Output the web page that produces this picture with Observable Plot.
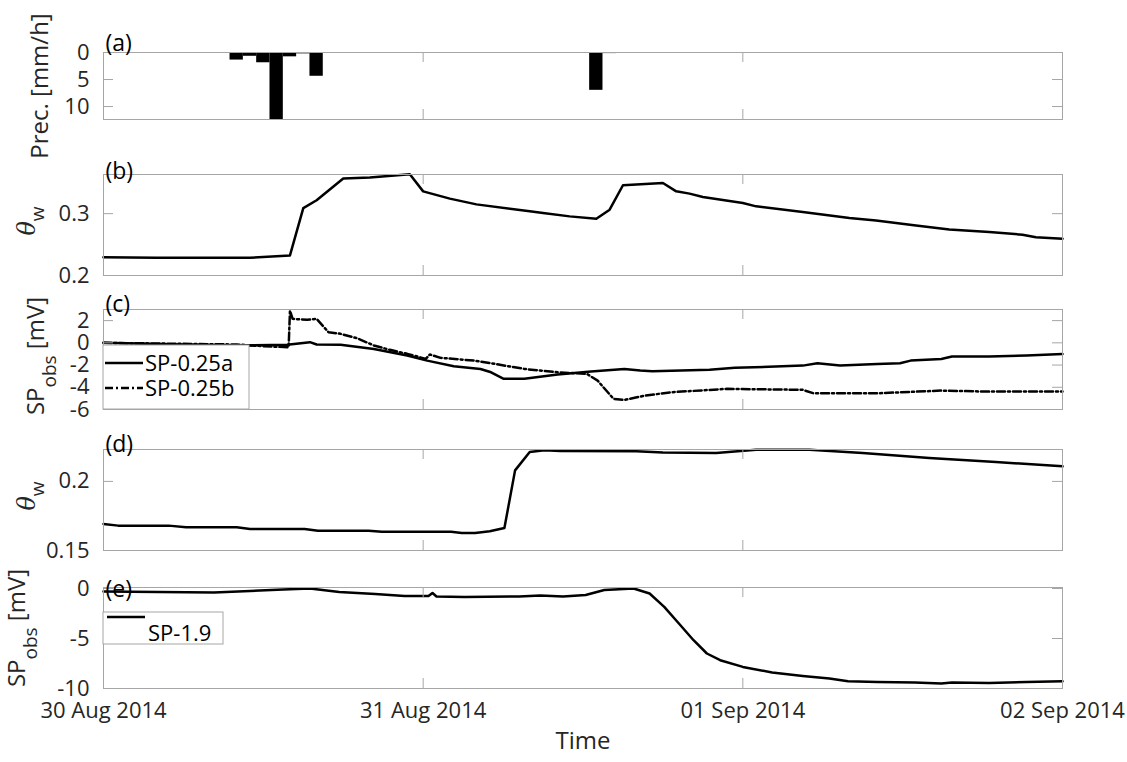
<!DOCTYPE html>
<html><head><meta charset="utf-8">
<script src="https://cdn.jsdelivr.net/npm/d3@7"></script>
<script src="https://cdn.jsdelivr.net/npm/@observablehq/plot@0.6"></script>
<style>
body{margin:0;background:#fff;}
#chart{position:relative;width:1127px;height:762px;font-family:"Open Sans",sans-serif;}
#chart svg{position:absolute;left:0;}
</style></head><body><div id="chart"></div>
<script>
// ---------- data (hours since 30 Aug 2014 00:00 UTC) ----------
const dayHours = [0, 24, 48, 72];
const dayLabels = ["30 Aug 2014", "31 Aug 2014", "01 Sep 2014", "02 Sep 2014"];

// (a) precipitation [mm/h], hourly bars
const precHours  = [7, 8, 9, 10, 11, 12, 13, 14, 15, 16, 37, 38, 40];
const precValues = [0.05, 0.05, 0.1, 1.4, 0.7, 1.9, 12.4, 0.8, 0.25, 4.4, 7.0, 0.2, 0.1];
const precTicks = [0, 5, 10];

// (b) theta_w shallow
const thetaBHours  = [0, 4, 11, 14, 15, 16, 18, 20, 23, 24, 26, 28, 32, 33, 35, 37, 38, 39, 42, 43, 44, 45, 48, 49, 52.5, 56, 58, 61, 63.5, 66.5, 69, 70, 72];
const thetaBValues = [0.2297, 0.2287, 0.2287, 0.2324, 0.309, 0.3216, 0.3567, 0.3583, 0.3637, 0.336, 0.3243, 0.315, 0.3037, 0.301, 0.2956, 0.2918, 0.3064, 0.3459, 0.3496, 0.3361, 0.3324, 0.327, 0.3172, 0.3118, 0.3026, 0.2929, 0.2891, 0.281, 0.2745, 0.2702, 0.266, 0.262, 0.2595];
const thetaBTicks = [0.2, 0.3];

// (c) SP-0.25a and SP-0.25b [mV]
const spAHours  = [0, 5.7, 10.3, 13.8, 15.5, 16, 17.8, 20.3, 22.8, 24.3, 26.3, 28.3, 29.1, 30.05, 31.6, 34.1, 36.6, 39.1, 40.3, 41.2, 45.5, 47.4, 52.5, 53.6, 55.3, 58.1, 59.8, 60.6, 62.9, 63.7, 66.5, 69.3, 72];
const spAValues = [0, -0.15, -0.24, -0.18, 0.06, -0.15, -0.18, -0.55, -1.14, -1.6, -2.1, -2.35, -2.65, -3.24, -3.24, -2.86, -2.59, -2.35, -2.5, -2.56, -2.43, -2.25, -2.05, -1.84, -2.05, -1.9, -1.84, -1.6, -1.45, -1.23, -1.23, -1.14, -1.0];
const spBHours  = [0, 10, 12, 13.9, 14.0, 14.2, 15.3, 16.0, 16.9, 17.8, 19.05, 20.3, 21.5, 22.8, 24.2, 24.5, 25.3, 27.8, 29.1, 31.6, 34.1, 36.3, 37.1, 38.3, 39.1, 40.3, 40.7, 42.6, 46.8, 52.5, 53.3, 58.1, 62.9, 66.5, 72];
const spBValues = [0, -0.15, -0.3, -0.4, 2.9, 2.16, 2.07, 2.16, 0.95, 0.81, 0.41, -0.24, -0.63, -0.99, -1.44, -1.05, -1.35, -1.6, -1.84, -2.35, -2.65, -2.8, -3.4, -5.05, -5.14, -4.84, -4.75, -4.45, -4.14, -4.23, -4.54, -4.54, -4.3, -4.39, -4.39];
const spCTicks = [2, 0, -2, -4, -6];

// (d) theta_w deep
const thetaDHours  = [0, 1.1, 4.9, 6.2, 10, 11, 15.1, 16.1, 19.9, 20.9, 26.1, 26.9, 27.9, 29, 30.1, 30.9, 32, 33.1, 34.3, 40, 42, 46, 49, 53, 57, 62, 67, 72];
const thetaDValues = [0.1692, 0.168, 0.168, 0.1668, 0.1668, 0.1656, 0.1656, 0.1643, 0.1643, 0.1636, 0.1636, 0.1627, 0.1627, 0.1639, 0.1663, 0.208, 0.2213, 0.2226, 0.222, 0.2218, 0.221, 0.2205, 0.2229, 0.2229, 0.2205, 0.217, 0.214, 0.2109];
const thetaDTicks = [0.15, 0.2];

// (e) SP-1.9 [mV]
const spEHours  = [0, 8.3, 11, 13.5, 15.5, 17.7, 20.4, 22.6, 24.4, 24.7, 25, 27.1, 31.2, 32.8, 34.5, 36.2, 37.6, 39.8, 41, 42.1, 43.2, 44.3, 45.3, 46.3, 48, 50.2, 52.5, 54.5, 55.9, 58.1, 60.9, 62.9, 63.7, 66.5, 69.3, 72];
const spEValues = [-0.3, -0.4, -0.25, -0.1, 0.0, -0.35, -0.55, -0.75, -0.75, -0.45, -0.8, -0.85, -0.8, -0.7, -0.8, -0.65, -0.15, 0.0, -0.5, -1.84, -3.5, -5.17, -6.5, -7.17, -7.84, -8.4, -8.74, -9.0, -9.27, -9.34, -9.4, -9.5, -9.4, -9.44, -9.34, -9.27];
const spETicks = [0, -5, -10];

// ---------- helpers ----------
const T0 = Date.UTC(2014, 7, 30);
const toDate = h => new Date(T0 + h * 3600e3);
const series = (hs, vs) => hs.map((h, i) => ({t: toDate(h), v: vs[i]}));
const dayDates = dayHours.map(toDate);
const AX = "#a6a6a6", TXT = "#262626", FONT = "'Open Sans', sans-serif";
const LEFT = 103, RIGHT = 1062, W = 1127;
const chart = document.getElementById("chart");

function panel({frameTop, frameBottom, mTop = 45, mBottom = 12, yDomain, yReverse = false, yTicks, marks, letter, letterDy, bottom = false}) {
  const h = frameBottom - frameTop, fw = RIGHT - LEFT;
  const svgTop = frameTop - mTop;
  const allMarks = [
    ...marks,
    Plot.frame({stroke: AX}),
    Plot.tickX(dayDates, {stroke: AX, insetTop: h - 10}),
    Plot.tickX(dayDates, {stroke: AX, insetBottom: h - 10}),
    Plot.tickY(yTicks, {stroke: AX, insetRight: fw - 10}),
    Plot.tickY(yTicks, {stroke: AX, insetLeft: fw - 10}),
    Plot.axisY(yTicks, {tickSize: 0, tickPadding: 14, label: null, tickFormat: d => String(d), fill: TXT, fontSize: 22}),
    Plot.text([letter], {frameAnchor: "top-left", dx: 2, dy: letterDy, textAnchor: "start", fill: "#000", fontSize: 23})
  ];
  if (bottom) {
    allMarks.push(Plot.axisX(dayDates, {tickSize: 0, tickPadding: 14, label: null, fill: TXT, fontSize: 22,
      tickFormat: d => dayLabels[dayDates.findIndex(t => +t === +d)]}));
    allMarks.push(Plot.text(["Time"], {frameAnchor: "bottom", dy: 60, fill: TXT, fontSize: 24}));
  }
  const svg = Plot.plot({
    width: W, height: h + mTop + mBottom,
    marginLeft: LEFT, marginRight: W - RIGHT, marginTop: mTop, marginBottom: mBottom,
    style: {background: "transparent", overflow: "visible", fontFamily: FONT, fontSize: "22px"},
    x: {type: "utc", domain: [toDate(0), toDate(72)], axis: bottom ? undefined : null},
    y: {domain: yDomain, reverse: yReverse},
    marks: allMarks
  });
  svg.style.top = svgTop + "px";
  chart.appendChild(svg);
  return {svg, svgTop};
}

function yLabel(p, cx, cy, parts) {
  const t = d3.select(p.svg).append("text")
    .attr("transform", `translate(${cx},${cy - p.svgTop}) rotate(-90)`)
    .attr("text-anchor", "middle").attr("font-size", 24).attr("fill", TXT)
    .attr("font-family", FONT);
  for (const q of parts) {
    const s = t.append("tspan").text(q.text);
    if (q.italic) s.attr("font-style", "italic").attr("font-family", "'DejaVu Serif', serif");
    if (q.size) s.attr("font-size", q.size);
    if (q.dy) s.attr("dy", q.dy);
  }
}

function legend(p, x, y, w, h, items) {
  const g = d3.select(p.svg).append("g");
  g.append("rect").attr("x", x).attr("y", y - p.svgTop).attr("width", w).attr("height", h)
    .attr("fill", "white").attr("stroke", AX);
  for (const it of items) {
    g.append("line").attr("x1", it.x1).attr("x2", it.x2).attr("y1", it.ly - p.svgTop).attr("y2", it.ly - p.svgTop)
      .attr("stroke", "black").attr("stroke-width", 2.5).attr("stroke-dasharray", it.dash || null);
    g.append("text").attr("x", it.tx).attr("y", it.ty - p.svgTop).attr("dy", "0.35em")
      .attr("text-anchor", "start")
      .attr("font-size", 22).attr("fill", "#000").attr("font-family", FONT).text(it.label);
  }
}

const DASHDOT = "8,3,2,3";

// (a)
const pa = panel({
  frameTop: 52, frameBottom: 119, mTop: 52, yDomain: [0, 12.4], yReverse: true, yTicks: precTicks,
  letter: "(a)", letterDy: -18,
  marks: [Plot.rect(series(precHours, precValues), {
    x1: d => new Date(+d.t - 1800e3), x2: d => new Date(+d.t + 1800e3), y1: 0, y2: "v", fill: "black"})]
});
yLabel(pa, 48, 86, [{text: "Prec. [mm/h]"}]);

// (b)
const pb = panel({
  frameTop: 174, frameBottom: 275, yDomain: [0.2, 0.3633], yTicks: thetaBTicks,
  letter: "(b)", letterDy: -12,
  marks: [Plot.line(series(thetaBHours, thetaBValues), {x: "t", y: "v", stroke: "black", strokeWidth: 2.5})]
});
yLabel(pb, 35, 221, [{text: "θ", italic: true}, {text: "w", size: 19, dy: 9}]);

// (c)
const pc = panel({
  frameTop: 309, frameBottom: 409, yDomain: [-6, 3], yTicks: spCTicks,
  letter: "(c)", letterDy: -14,
  marks: [
    Plot.line(series(spAHours, spAValues), {x: "t", y: "v", stroke: "black", strokeWidth: 2.5}),
    Plot.line(series(spBHours, spBValues), {x: "t", y: "v", stroke: "black", strokeWidth: 2.5, strokeDasharray: DASHDOT})
  ]
});
yLabel(pc, 44, 356, [{text: "SP"}, {text: "obs", size: 19, dy: 12}, {text: " [mV]", dy: -12}]);
legend(pc, 103, 345, 146, 64, [
  {x1: 105, x2: 143, ly: 363, tx: 145, ty: 363, label: "SP-0.25a"},
  {x1: 105, x2: 143, ly: 388, tx: 145, ty: 388, label: "SP-0.25b", dash: DASHDOT}
]);

// (d)
const pd = panel({
  frameTop: 449, frameBottom: 550, yDomain: [0.15, 0.2231], yTicks: thetaDTicks,
  letter: "(d)", letterDy: -14,
  marks: [Plot.line(series(thetaDHours, thetaDValues), {x: "t", y: "v", stroke: "black", strokeWidth: 2.5})]
});
yLabel(pd, 35, 496, [{text: "θ", italic: true}, {text: "w", size: 19, dy: 9}]);

// (e)
const pe = panel({
  frameTop: 587, frameBottom: 688, mBottom: 74, yDomain: [-10, 0.1], yTicks: spETicks,
  letter: "(e)", letterDy: -7, bottom: true,
  marks: [Plot.line(series(spEHours, spEValues), {x: "t", y: "v", stroke: "black", strokeWidth: 2.5})]
});
yLabel(pe, 25, 628, [{text: "SP"}, {text: "obs", size: 19, dy: 12}, {text: " [mV]", dy: -12}]);
legend(pe, 103, 612, 120, 32, [
  {x1: 107, x2: 145, ly: 617, tx: 148, ty: 633, label: "SP-1.9"}
]);
</script></body></html>
